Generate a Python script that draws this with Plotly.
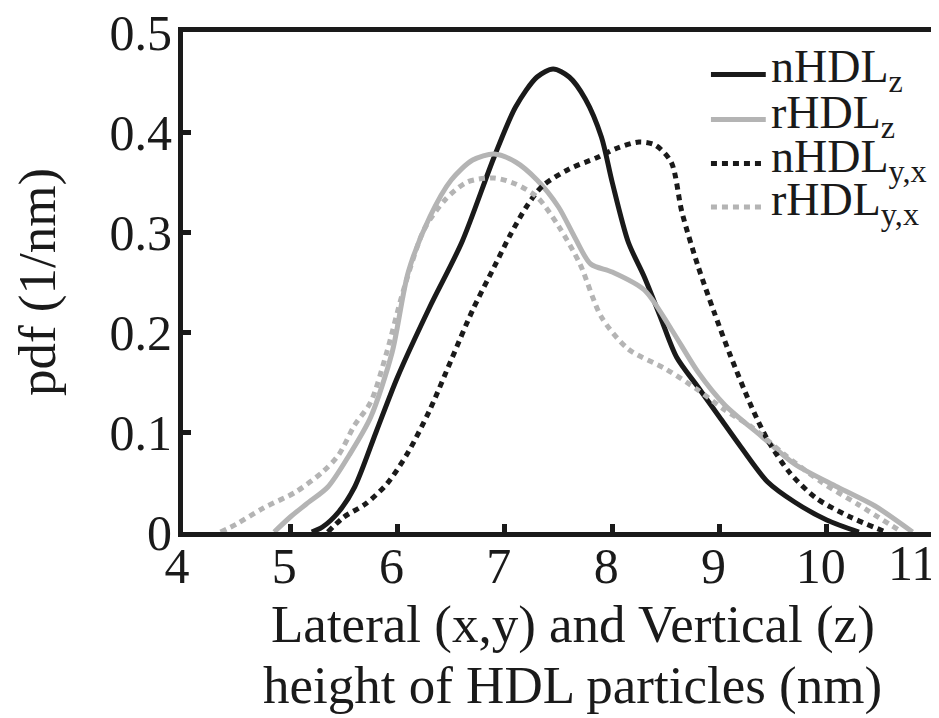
import plotly.graph_objects as go

# nHDL_z (black solid)
nz_x = [5.2, 5.3, 5.45, 5.6, 5.8, 6.0, 6.3, 6.6, 6.9, 7.1, 7.3, 7.45, 7.6, 7.75, 7.9, 8.0, 8.15,
        8.3, 8.45, 8.6, 8.8, 9.0, 9.2, 9.45, 9.7, 10.0, 10.3]
nz_y = [0.0, 0.005, 0.02, 0.045, 0.1, 0.155, 0.225, 0.29, 0.375, 0.425, 0.455, 0.463, 0.455,
        0.433, 0.395, 0.35, 0.29, 0.255, 0.215, 0.175, 0.145, 0.115, 0.085, 0.05, 0.03, 0.012, 0.0]

# rHDL_z (grey solid)
rz_x = [4.85, 5.0, 5.15, 5.35, 5.55, 5.75, 5.95, 6.1, 6.3, 6.5, 6.7, 6.9, 7.1, 7.3, 7.5, 7.65,
        7.8, 8.0, 8.3, 8.55, 8.8, 9.05, 9.4, 9.7, 10.1, 10.45, 10.8]
rz_y = [0.0, 0.015, 0.028, 0.045, 0.077, 0.115, 0.18, 0.26, 0.315, 0.352, 0.372, 0.378, 0.37,
        0.352, 0.325, 0.295, 0.268, 0.26, 0.242, 0.203, 0.16, 0.127, 0.095, 0.068, 0.045, 0.026, 0.0]

# nHDL_y,x (black dotted)
nyx_x = [5.35, 5.5, 5.7, 5.9, 6.1, 6.3, 6.5, 6.7, 6.9, 7.05, 7.2, 7.35, 7.6, 7.85, 8.05, 8.25,
         8.4, 8.55, 8.65, 8.8, 8.95, 9.1, 9.3, 9.45, 9.65, 9.9, 10.2, 10.55]
nyx_y = [0.0, 0.015, 0.028, 0.048, 0.08, 0.122, 0.172, 0.222, 0.265, 0.297, 0.325, 0.346, 0.363,
         0.374, 0.384, 0.39, 0.387, 0.37, 0.32, 0.266, 0.22, 0.177, 0.125, 0.092, 0.06, 0.034, 0.016, 0.0]

# rHDL_y,x (grey dotted)
ryx_x = [4.35, 4.5, 4.75, 5.05, 5.3, 5.45, 5.6, 5.75, 5.9, 6.05, 6.25, 6.45, 6.65, 6.9, 7.1, 7.3,
         7.5, 7.7, 7.9, 8.15, 8.5, 8.8, 9.05, 9.3, 9.6, 9.95, 10.3, 10.7]
ryx_y = [0.0, 0.008, 0.024, 0.04, 0.06, 0.077, 0.107, 0.13, 0.18, 0.24, 0.303, 0.333, 0.35, 0.354,
         0.348, 0.335, 0.306, 0.268, 0.215, 0.183, 0.163, 0.142, 0.122, 0.105, 0.078, 0.05, 0.027, 0.0]

names = ["nHDL<sub>z</sub>", "rHDL<sub>z</sub>", "nHDL<sub>y,x</sub>", "rHDL<sub>y,x</sub>"]
x_ticks = [4, 5, 6, 7, 8, 9, 10, 11]
x_ticktext = ["4", "5", "6", "7", "8", "9", "10", ""]
last_x_label = "11"
y_ticks = [0, 0.1, 0.2, 0.3, 0.4, 0.5]
y_ticktext = ["0", "0.1", "0.2", "0.3", "0.4", "0.5"]
x_title = ["Lateral (x,y) and Vertical (z)", "height of HDL particles (nm)"]
y_title = "pdf (1/nm)"

BLACK = "#1a1a1a"
GREY = "#b4b4b4"
FONT = "Liberation Serif, Times New Roman, serif"
DOT = "6px,5px"

fig = go.Figure()
series = [
    (nz_x, nz_y, BLACK, "solid"),
    (rz_x, rz_y, GREY, "solid"),
    (nyx_x, nyx_y, BLACK, DOT),
    (ryx_x, ryx_y, GREY, DOT),
]
for (xs, ys, col, dash), nm in zip(series, names):
    fig.add_trace(go.Scatter(x=xs, y=ys, mode="lines", name=nm, showlegend=False,
                             line=dict(color=col, width=5, dash=dash, shape="spline", smoothing=0.8)))

# hand-placed legend (samples + labels) in paper coordinates
leg_rows_y = [0.915, 0.825, 0.737, 0.650]
shapes = []
annos = []
for (xs, ys, col, dash), nm, ly in zip(series, names, leg_rows_y):
    shapes.append(dict(type="line", xref="paper", yref="paper", x0=0.703, x1=0.776, y0=ly, y1=ly,
                       line=dict(color=col, width=5, dash=dash)))
    annos.append(dict(xref="paper", yref="paper", x=0.780, y=ly, xanchor="left", yanchor="middle",
                      yshift=4, text=nm, showarrow=False,
                      font=dict(size=46, family=FONT, color=BLACK)))

# x-axis title (two lines) and the last x tick label
annos.append(dict(xref="paper", yref="paper", x=0.519, y=0, xanchor="center", yanchor="middle",
                  yshift=-92, text=x_title[0], showarrow=False,
                  font=dict(size=53, family=FONT, color=BLACK)))
annos.append(dict(xref="paper", yref="paper", x=0.519, y=0, xanchor="center", yanchor="middle",
                  yshift=-153, text=x_title[1], showarrow=False,
                  font=dict(size=53, family=FONT, color=BLACK)))
annos.append(dict(xref="x", yref="paper", x=11, y=0, xanchor="right", yanchor="top",
                  xshift=4, yshift=-1, text=last_x_label, showarrow=False,
                  font=dict(size=50, family=FONT, color=BLACK)))

fig.update_layout(
    width=939, height=718,
    margin=dict(l=175, r=13, t=24, b=194),
    paper_bgcolor="white", plot_bgcolor="white",
    font=dict(family=FONT, color=BLACK, size=50),
    showlegend=False,
    shapes=shapes,
    annotations=annos,
)
fig.update_xaxes(range=[4, 11], tickvals=x_ticks, ticktext=x_ticktext,
                 showgrid=False, zeroline=False, automargin=False,
                 showline=True, linecolor=BLACK, linewidth=5, mirror=True,
                 ticks="inside", ticklen=8, tickwidth=5, tickcolor=BLACK,
                 ticklabeloverflow="allow", ticklabelstandoff=-14, ticklabelshift=-6,
                 tickfont=dict(size=50, family=FONT, color=BLACK))
fig.update_yaxes(range=[0, 0.5], tickvals=y_ticks, ticktext=y_ticktext,
                 showgrid=False, zeroline=False, automargin=False,
                 showline=True, linecolor=BLACK, linewidth=5, mirror=True,
                 ticks="inside", ticklen=8, tickwidth=5, tickcolor=BLACK,
                 ticklabeloverflow="allow", ticklabelstandoff=-4,
                 tickfont=dict(size=50, family=FONT, color=BLACK),
                 title=dict(text=y_title, font=dict(size=53, family=FONT, color=BLACK), standoff=44))

fig.write_html("out.html")
